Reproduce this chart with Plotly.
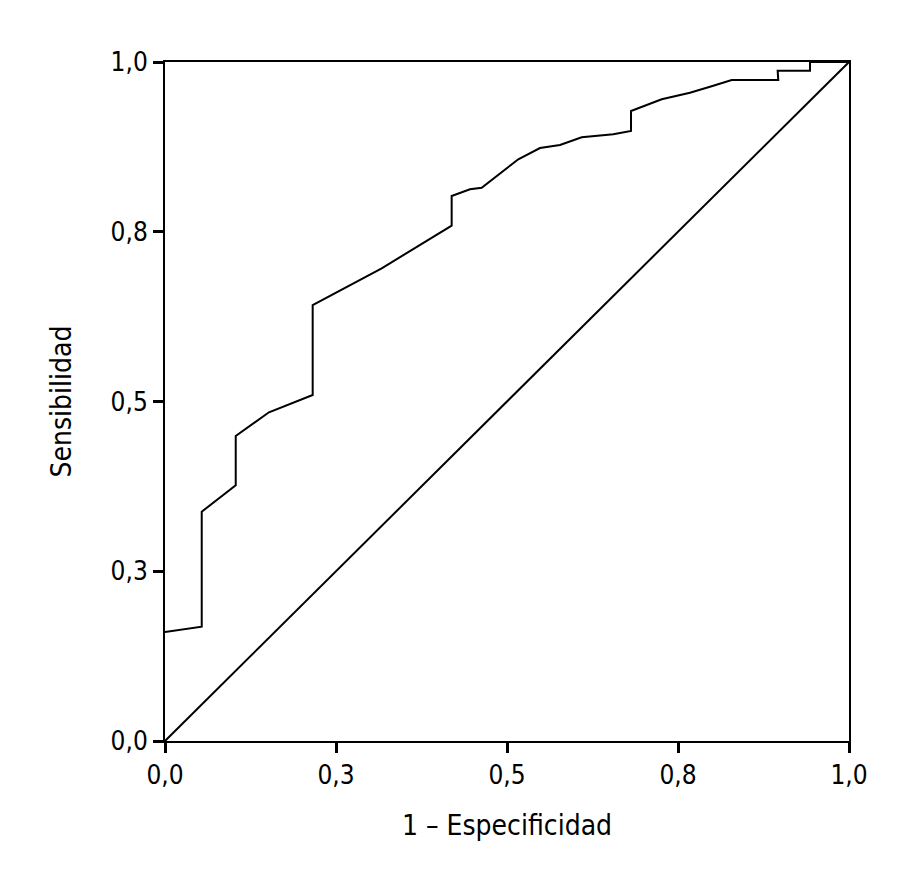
import plotly.graph_objects as go

# ROC curve points (1 - especificidad, sensibilidad)
fpr = [0.0, 0.0537, 0.0537, 0.1034, 0.1034, 0.152, 0.2159, 0.2159, 0.3168, 0.4191,
       0.4191, 0.4459, 0.463, 0.5165, 0.5482, 0.5775, 0.6092, 0.6554, 0.6813, 0.6813,
       0.7262, 0.7675, 0.8016, 0.8285, 0.8966, 0.8957, 0.943, 0.943, 1.0]
tpr = [0.1605, 0.1683, 0.3377, 0.3766, 0.4492, 0.4841, 0.5096, 0.6421, 0.6962, 0.7589,
       0.8026, 0.8125, 0.8149, 0.8567, 0.8733, 0.8778, 0.8891, 0.8935, 0.8984, 0.9278,
       0.9451, 0.9548, 0.9651, 0.9735, 0.9735, 0.9872, 0.9872, 1.0, 1.0]

ref_x = [0.0, 1.0]
ref_y = [0.0, 1.0]

tick_vals = [0.0, 0.25, 0.5, 0.75, 1.0]
tick_text = ["0,0", "0,3", "0,5", "0,8", "1,0"]

FONT = "Liberation Sans Narrow, DejaVu Sans Condensed, Arial Narrow, sans-serif"

fig = go.Figure()
fig.add_trace(go.Scatter(x=ref_x, y=ref_y, mode="lines",
                         line=dict(color="black", width=2), showlegend=False))
fig.add_trace(go.Scatter(x=fpr, y=tpr, mode="lines",
                         line=dict(color="black", width=2), showlegend=False))

axis_common = dict(
    range=[0, 1], tickvals=tick_vals, ticktext=tick_text,
    showgrid=False, zeroline=False,
    showline=True, linecolor="black", linewidth=2, mirror=True,
    ticks="outside", ticklen=10, tickwidth=3, tickcolor="black",
    tickfont=dict(family=FONT, size=26, color="black"),
)

fig.update_layout(
    width=911, height=887,
    margin=dict(l=157, r=70, t=54, b=154),
    paper_bgcolor="white", plot_bgcolor="white",
    font=dict(family=FONT, color="black"),
    xaxis=dict(**axis_common,
               title=dict(text="1 – Especificidad", font=dict(family=FONT, size=28, color="black"),
                          standoff=26)),
    yaxis=dict(**axis_common,
               title=dict(text="Sensibilidad", font=dict(family=FONT, size=28, color="black"),
                          standoff=31)),
)

fig.write_html("out.html")
